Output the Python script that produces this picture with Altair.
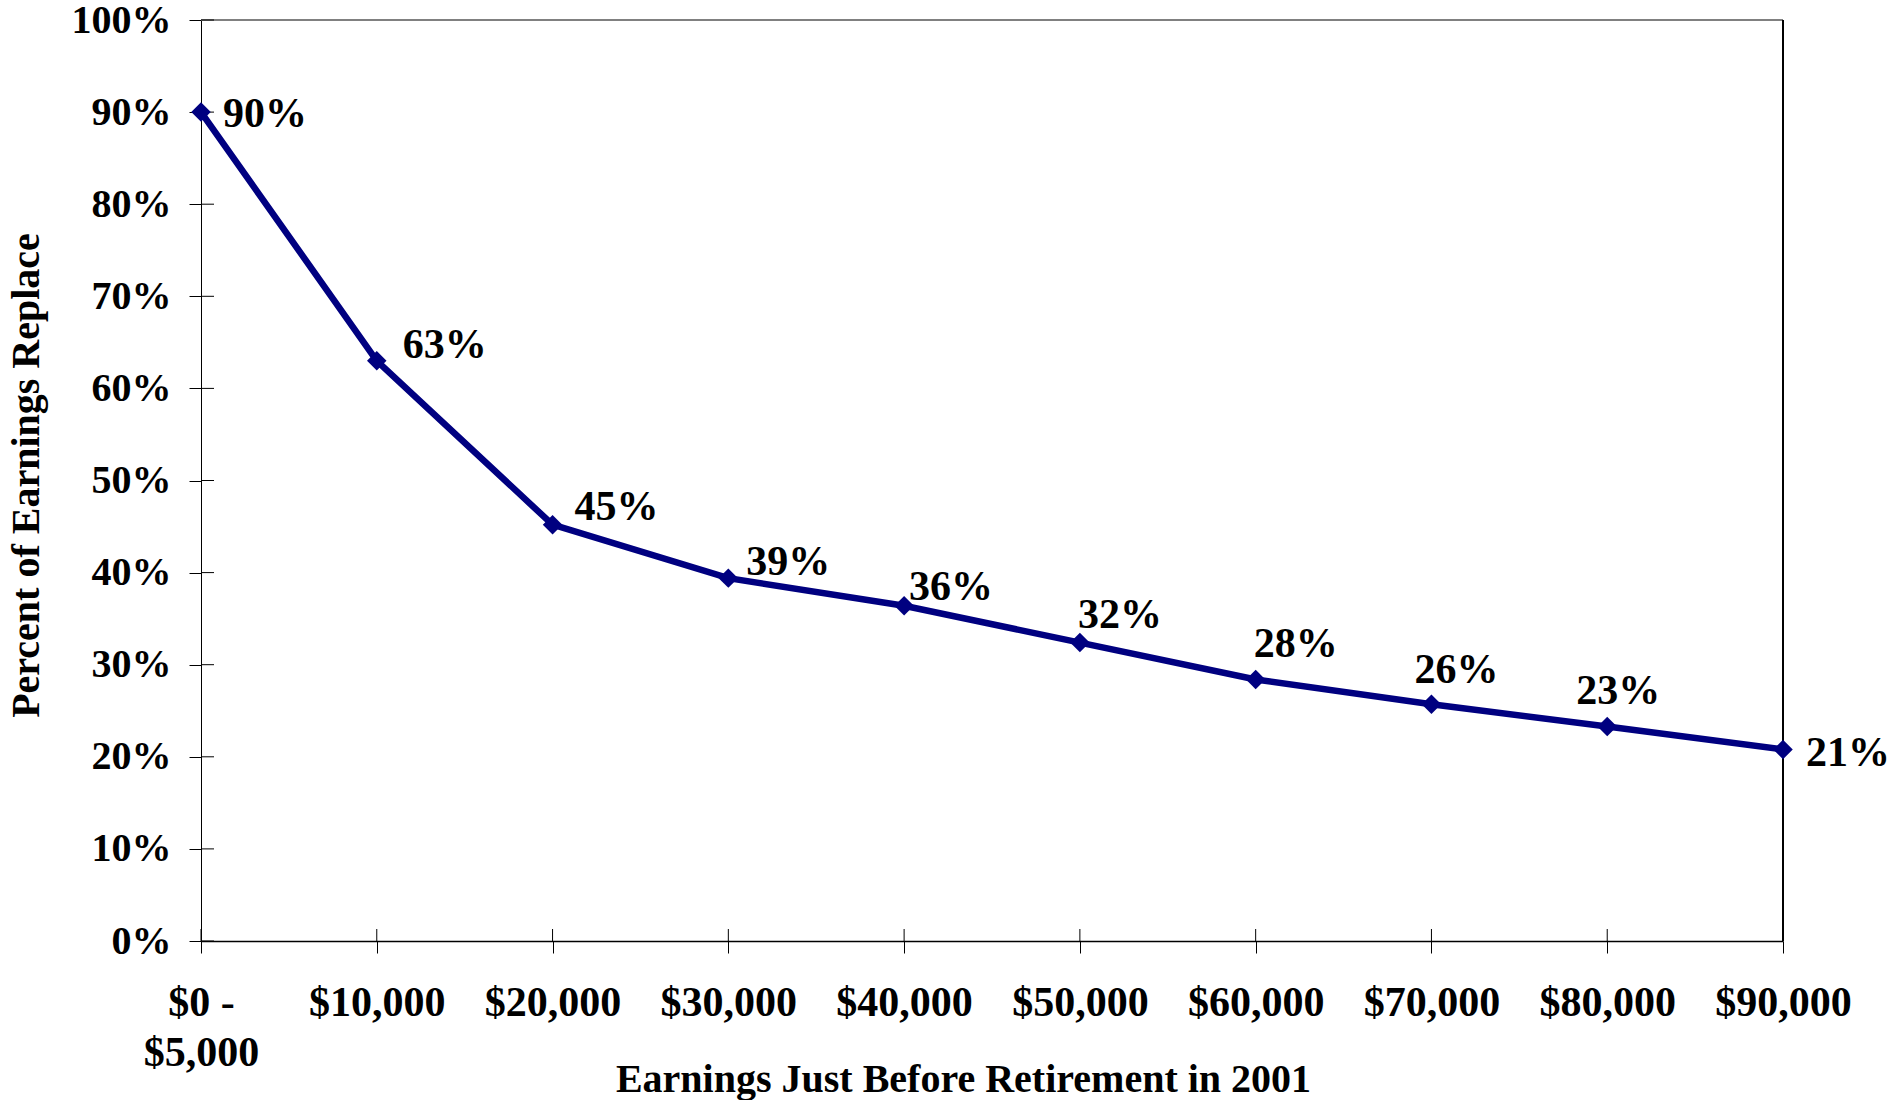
import altair as alt
import pandas as pd

# Earnings brackets (just before retirement, 2001) and the share of earnings replaced
categories = ["$0 - $5,000", "$10,000", "$20,000", "$30,000", "$40,000",
              "$50,000", "$60,000", "$70,000", "$80,000", "$90,000"]
replacement_pct = [90.0, 63.0, 45.2, 39.4, 36.4, 32.4, 28.4, 25.7, 23.3, 20.8]
y_tick_pct = [0, 10, 20, 30, 40, 50, 60, 70, 80, 90, 100]

# label nudges (dx, dy) in pixels for each point's value label
label_nudge = [(22, 2), (26, -16), (22, -18), (18, -16), (5, -19),
               (-2, -28), (-2, -35), (-17, -34), (-31, -35), (23, 4)]

W, H = 1582, 921
FONT = "Liberation Serif"
NAVY = "#000080"
FS = 42

df = pd.DataFrame({
    "earnings": categories,
    "pct": [v / 100 for v in replacement_pct],
    "idx": list(range(len(categories))),
})
yticks = pd.DataFrame({"pct": [v / 100 for v in y_tick_pct]})

x_scale = alt.Scale(type="point", padding=0)
y_scale = alt.Scale(domain=[0, 1])

x_axis = alt.Axis(
    title="Earnings Just Before Retirement in 2001",
    labelExpr="split(replace(datum.label, ' - ', ' -|'), '|')",
    labelAngle=0, labelPadding=29, labelLineHeight=50,
    labelBaseline="top", labelFlush=False, labelFontSize=FS,
    domainWidth=1.5, tickSize=12,
    titleX=762, titleY=150, titleBaseline="alphabetic", titleAlign="center",
    titleAnchor="start",
)
y_axis = alt.Axis(
    title="Percent of Earnings Replace", values=[v / 100 for v in y_tick_pct],
    format=".0%", labelPadding=18, tickSize=12, domainWidth=1, labelFontSize=40,
    titleX=-175, titleY=455, titleBaseline="middle", titleAlign="center",
    titleAnchor="start", titleAngle=-90,
)


def xe():
    return alt.X("earnings:N", sort=categories, scale=x_scale, axis=x_axis)


def ye():
    return alt.Y("pct:Q", scale=y_scale, axis=y_axis)


line = alt.Chart(df).mark_line(color=NAVY, strokeWidth=6.5).encode(x=xe(), y=ye())
points = alt.Chart(df).mark_point(
    shape="diamond", filled=True, color=NAVY, size=380, opacity=1
).encode(x=xe(), y=ye())

labels = []
for i, (dx, dy) in enumerate(label_nudge):
    labels.append(
        alt.Chart(df).transform_filter(f"datum.idx == {i}").mark_text(
            align="left", baseline="middle", dx=dx, dy=dy,
            font=FONT, fontWeight="bold", fontSize=FS, color="black",
        ).encode(x=xe(), y=ye(), text=alt.Text("pct:Q", format=".0%"))
    )

# inner halves of the crossing tick marks
y_inner = alt.Chart(yticks).mark_rule(color="black", strokeWidth=1).encode(
    y=ye(), x=alt.value(0), x2=alt.value(13)
)
x_inner = alt.Chart(df).mark_rule(color="black", strokeWidth=1).encode(
    x=xe(), y=alt.value(H), y2=alt.value(H - 12),
)

# plot-area frame: grey top edge, black right edge
top_edge = alt.Chart(df).mark_rule(color="#808080", strokeWidth=1.5).encode(
    x=alt.value(0), x2=alt.value(W), y=alt.value(0)
)
right_edge = alt.Chart(df).mark_rule(color="black", strokeWidth=1).encode(
    x=alt.value(W), y=alt.value(0), y2=alt.value(H)
)

chart = alt.layer(
    line, top_edge, right_edge, y_inner, x_inner, points, *labels
).properties(
    width=W, height=H,
    autosize=alt.AutoSizeParams(type="none"),
    padding={"left": 201, "top": 20, "right": 109, "bottom": 159},
    background="white",
).configure_view(stroke=None).configure_axis(
    grid=False, domainColor="black", tickColor="black",
    labelFont=FONT, labelFontWeight="bold", labelColor="black",
    titleFont=FONT, titleFontWeight="bold", titleFontSize=40, titleColor="black",
)

chart.save("out.html", embed_options={"renderer": "svg", "actions": False})
